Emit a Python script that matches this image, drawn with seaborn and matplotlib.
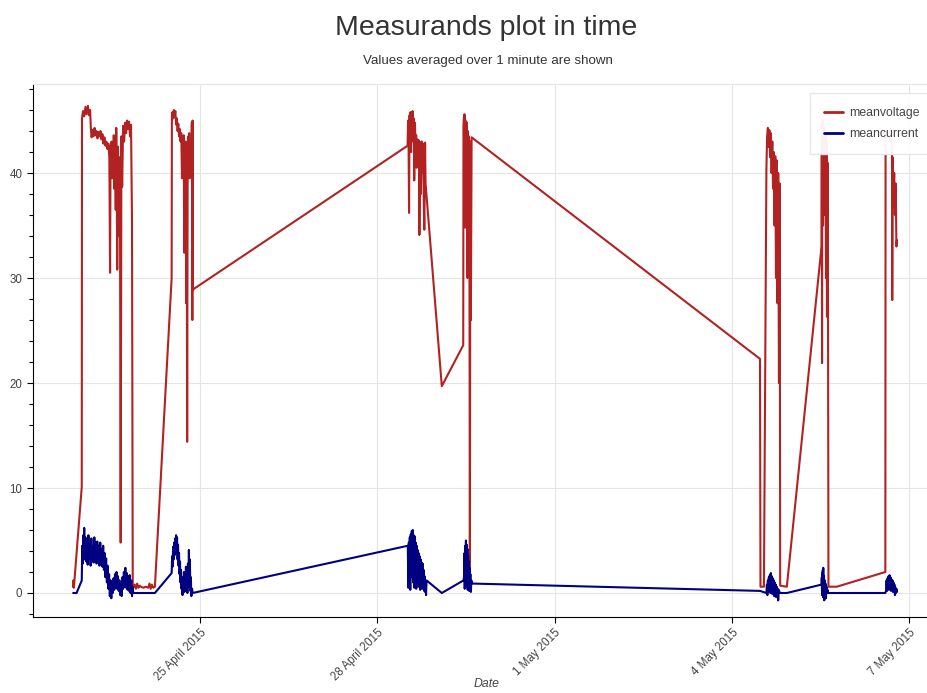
import numpy as np
import pandas as pd
import matplotlib
matplotlib.use("Agg")
import matplotlib.pyplot as plt
from matplotlib.ticker import MultipleLocator
import seaborn as sns

# ---------------- data (hours relative to 2015-04-25 00:00) ----------------
BASE = "2015-04-25 00:00"
series_names = ["meanvoltage", "meancurrent"]
series_colors = {"meanvoltage": "#b22222", "meancurrent": "#000080"}

tick_dates = ["2015-04-25", "2015-04-28", "2015-05-01", "2015-05-04", "2015-05-07"]
tick_labels = ["25 April 2015", "28 April 2015", "1 May 2015", "4 May 2015", "7 May 2015"]

# voltage, burst 1
v1_hours = [-51.6, -51.4, -51.2, -48.0, -47.9, -47.5, -47.0, -46.5, -46.0, -45.5, -45.0, -44.6,
            -44.3, -44.0, -43.6, -43.2, -42.8, -42.4, -42.0, -41.6, -41.2, -40.8, -40.4, -40.0,
            -39.6, -39.2, -38.8, -38.4, -38.0, -37.6, -37.2, -36.8, -36.5, -36.3, -36.1, -35.9,
            -35.7, -35.5, -35.2, -35.0, -34.8, -34.6, -34.4, -34.2, -34.0, -33.8, -33.6, -33.3,
            -33.0, -32.7, -32.5, -32.2, -31.9, -31.6, -31.2, -30.8, -30.4, -30.0, -29.6, -29.2,
            -28.8, -28.4, -28.0, -27.6, -27.3]
v1_values = [0.6, 1.2, 0.5, 10.1, 45.2, 45.9, 45.4, 46.3, 45.6, 46.4, 45.5, 46.0,
             44.2, 43.4, 44.1, 43.5, 44.3, 43.6, 44.0, 43.3, 43.9, 43.5, 44.0, 43.2,
             43.7, 42.8, 43.4, 42.6, 43.0, 42.3, 42.8, 41.5, 30.5, 42.6, 40.0, 43.0,
             39.5, 42.5, 41.0, 43.6, 38.5, 42.0, 40.0, 36.5, 44.3, 39.0, 30.8, 42.5,
             34.0, 41.5, 40.0, 4.8, 43.5, 38.7, 44.5, 43.0, 44.8, 43.8, 45.0, 44.2,
             44.9, 43.5, 44.6, 35.5, 0.9]
# voltage, low plateau
v2_hours = [-27.1, -26.5, -26.0, -25.5, -25.0, -24.5, -24.0, -23.0, -22.0, -21.0, -20.5, -20.0,
            -19.5, -19.0, -18.3]
v2_values = [0.5, 0.8, 0.4, 0.9, 0.5, 0.7, 0.6, 0.5, 0.6, 0.5, 0.9, 0.4, 0.8, 0.5, 0.6]
# voltage, burst 2
v3_hours = [-11.5, -11.4, -11.2, -10.9, -10.6, -10.3, -10.0, -9.7, -9.4, -9.1, -8.8, -8.5,
            -8.2, -7.9, -7.6, -7.3, -7.0, -6.8, -6.6, -6.4, -6.2, -6.0, -5.8, -5.6,
            -5.4, -5.2, -5.0, -4.8, -4.6, -4.4, -4.2, -4.0, -3.6, -3.3, -3.1, -3.0, -2.9]
v3_values = [30.0, 45.3, 45.8, 45.2, 46.0, 45.4, 45.9, 44.6, 45.2, 44.0, 44.7, 43.5,
             44.2, 43.0, 43.8, 39.5, 43.2, 42.0, 43.6, 32.4, 42.5, 40.5, 43.0, 27.6,
             42.0, 14.4, 40.0, 43.5, 41.0, 43.8, 39.5, 42.8, 41.0, 44.8, 26.0, 45.0, 28.9]
# voltage, burst 3
v4_hours = [84.3, 84.5, 84.7, 84.9, 85.1, 85.3, 85.5, 85.7, 85.9, 86.1, 86.3, 86.6,
            86.8, 87.0, 87.3, 87.5, 87.8, 88.0, 88.3, 88.6, 88.9, 89.1, 89.4, 89.7,
            90.0, 90.3, 90.6, 90.9, 91.1, 91.4, 91.6, 98.2, 106.9]
v4_values = [42.6, 45.0, 43.0, 36.2, 45.5, 44.0, 45.8, 42.0, 45.6, 44.5, 45.9, 43.0,
             45.2, 39.3, 44.8, 42.5, 43.6, 40.5, 43.2, 41.0, 43.1, 34.1, 42.9, 38.0,
             43.0, 40.0, 42.8, 37.0, 34.6, 42.9, 39.0, 19.7, 23.6]
# voltage, burst 4
v5_hours = [107.0, 107.2, 107.3, 107.4, 107.5, 107.6, 107.7, 107.8, 107.9, 108.0, 108.2,
            108.4, 108.6, 108.8, 109.0, 109.2, 109.4, 109.6, 109.8, 110.0, 110.3]
v5_values = [44.4, 45.4, 36.3, 45.6, 40.0, 45.2, 34.8, 45.0, 38.5, 44.6, 41.0,
             44.8, 30.0, 44.0, 40.5, 43.5, 36.0, 0.8, 43.0, 26.0, 43.4]
# voltage, burst 5
v6_hours = [227.4, 227.6, 229.0, 230.0, 230.3, 230.6, 230.9, 231.2, 231.5, 231.8, 232.1, 232.4,
            232.7, 233.0, 233.3, 233.6, 233.9, 234.2, 234.5, 234.8, 235.1, 235.4, 235.6, 238.3]
v6_values = [22.3, 0.6, 0.6, 40.3, 43.5, 44.3, 42.5, 44.1, 41.5, 43.8, 40.0, 43.0,
             38.5, 42.0, 35.0, 41.6, 30.0, 41.2, 27.6, 40.0, 20.0, 39.0, 0.7, 0.6]
# voltage, burst 6
v7_hours = [252.4, 252.5, 252.6, 252.7, 252.8, 252.9, 253.0, 253.2, 253.4, 253.6, 253.8, 254.0,
            254.2, 254.4, 254.6, 254.8, 255.0, 255.2, 258.6]
v7_values = [33.0, 44.5, 21.9, 44.8, 38.0, 45.0, 35.0, 44.6, 40.0, 44.2, 36.0, 43.8,
             30.0, 43.0, 26.3, 41.0, 32.0, 0.6, 0.6]
# voltage, burst 7
v8_hours = [278.3, 278.4, 280.8, 281.0, 281.1, 281.3, 281.6, 281.9, 282.2, 282.5, 282.8, 283.0]
v8_values = [2.0, 44.0, 43.0, 42.0, 27.9, 41.5, 38.0, 40.0, 36.0, 39.0, 33.0, 33.6]

# current, burst 1
c1_hours = [-51.5, -50.1, -48.0, -47.8, -47.6, -47.4, -47.2, -47.0, -46.8, -46.5, -46.2, -45.9,
            -45.6, -45.3, -45.0, -44.7, -44.4, -44.1, -43.8, -43.5, -43.2, -42.9, -42.6, -42.3,
            -42.0, -41.7, -41.4, -41.1, -40.8, -40.5, -40.2, -39.9, -39.6, -39.3, -39.0, -38.7,
            -38.4, -38.1, -37.8, -37.5, -37.2, -36.9, -36.6, -36.3, -36.0, -35.7, -35.4, -35.1,
            -34.8, -34.5, -34.2, -33.9, -33.6, -33.3, -33.0, -32.7, -32.4, -32.1, -31.8, -31.5,
            -31.2, -30.9, -30.6, -30.3, -30.0, -29.7, -29.4, -29.1, -28.8, -28.5, -28.2, -27.9,
            -27.6, -27.3, -27.1, -18.3]
c1_values = [0.0, 0.0, 1.2, 4.5, 2.8, 5.5, 3.5, 6.2, 3.2, 5.3, 3.0, 5.0,
             2.7, 5.5, 3.3, 4.6, 2.6, 5.2, 3.1, 4.4, 2.9, 5.3, 3.4, 4.8,
             2.8, 4.9, 3.0, 4.5, 2.6, 4.8, 3.2, 4.2, 2.5, 4.5, 2.2, 3.8,
             1.5, 3.3, 1.0, 2.6, 0.4, 1.8, -0.3, 1.2, -0.5, 1.0, 0.0, 1.4,
             0.3, 1.8, 0.5, 2.0, 0.4, 1.6, 0.2, 1.2, -0.2, 0.8, -0.3, 1.5,
             0.4, 2.0, 0.6, 2.4, 0.5, 1.9, 0.3, 1.6, 0.2, 1.7, 0.0, 1.2,
             -0.3, 0.6, 0.0, 0.0]
# current, burst 2
c2_hours = [-11.5, -11.3, -11.1, -10.9, -10.7, -10.5, -10.3, -10.1, -9.9, -9.7, -9.5, -9.3,
            -9.1, -8.9, -8.7, -8.5, -8.3, -8.1, -7.9, -7.7, -7.5, -7.3, -7.1, -6.9,
            -6.7, -6.5, -6.3, -6.1, -5.9, -5.7, -5.5, -5.3, -5.1, -4.9, -4.7, -4.5,
            -4.3, -4.1, -3.9, -3.7, -3.5, -3.2, -3.0]
c2_values = [1.9, 3.5, 2.5, 4.4, 3.2, 4.8, 3.6, 5.2, 3.8, 5.5, 4.0, 5.3,
             3.2, 4.6, 2.6, 3.8, 1.8, 3.0, 1.0, 2.2, 0.4, 1.5, -0.2, 1.2,
             0.3, 2.0, 0.1, 1.6, 0.5, 2.5, 0.3, 1.8, 0.0, 2.8, 0.6, 4.1,
             0.8, 3.2, 0.2, 1.5, -0.3, 0.4, 0.0]
# current, burst 3
c3_hours = [84.4, 84.6, 84.8, 85.0, 85.2, 85.4, 85.6, 85.8, 86.0, 86.2, 86.4, 86.6,
            86.8, 87.0, 87.2, 87.4, 87.6, 87.8, 88.0, 88.2, 88.4, 88.6, 88.8, 89.0,
            89.2, 89.4, 89.6, 89.8, 90.0, 90.2, 90.4, 90.6, 90.8, 91.0, 91.2, 91.4,
            91.6, 91.8, 92.0, 98.2]
c3_values = [4.5, 0.5, 4.8, 1.0, 5.3, 0.3, 5.6, 1.5, 5.9, 2.0, 6.0, 1.0,
             5.5, 0.5, 5.4, 1.8, 4.8, 0.4, 4.5, 1.2, 4.1, 0.6, 3.8, 1.5,
             3.5, 0.3, 3.2, 1.0, 2.9, 0.4, 2.8, 0.9, 2.2, 0.2, 1.6, 0.1,
             1.0, -0.2, 1.2, 0.0]
# current, burst 4
c4_hours = [107.0, 107.2, 107.4, 107.5, 107.7, 107.8, 108.0, 108.1, 108.3, 108.4, 108.6,
            108.7, 108.9, 109.0, 109.2, 109.3, 109.5, 109.6, 109.8, 110.0, 110.2, 110.4]
c4_values = [1.2, 1.5, 3.8, 0.4, 4.5, 1.0, 5.0, 0.6, 4.6, 1.2, 4.2,
             0.3, 3.6, 0.8, 3.0, 0.2, 2.4, 0.5, 1.8, 0.1, 1.2, 0.9]
# current, burst 5
c5_hours = [227.4, 230.0, 230.2, 230.4, 230.6, 230.8, 231.0, 231.2, 231.4, 231.6, 231.8, 232.0,
            232.2, 232.4, 232.6, 232.8, 233.0, 233.2, 233.4, 233.6, 233.8, 234.0, 234.2, 234.4,
            234.6, 234.8, 235.0, 235.5, 238.3]
c5_values = [0.2, 0.0, 0.8, -0.2, 1.2, 0.1, 1.5, 0.3, 1.7, 0.0, 1.9, 0.4,
             1.6, -0.1, 1.4, 0.2, 1.2, -0.3, 1.0, 0.0, 0.8, -0.4, 0.6, -0.2,
             0.4, -0.7, 0.3, 0.0, 0.0]
# current, burst 6
c6_hours = [252.4, 252.5, 252.6, 252.7, 252.8, 252.9, 253.0, 253.1, 253.2, 253.4, 253.5, 253.7,
            253.8, 254.0, 254.2, 254.4, 254.6, 254.8, 255.0, 278.3]
c6_values = [0.8, 1.5, -0.2, 1.9, 0.2, 2.2, -0.4, 2.4, 0.5, 1.6, -0.7, 1.2,
             -0.2, 0.9, -0.5, 0.6, 0.0, 0.3, 0.0, 0.0]
# current, burst 7
c7_hours = [278.6, 278.8, 279.0, 279.2, 279.4, 279.6, 279.8, 280.0, 280.2, 280.4, 280.6, 280.8,
            281.0, 281.2, 281.4, 281.6, 281.8, 282.0, 282.2, 282.4, 282.6, 282.8, 283.0]
c7_values = [0.2, 1.2, 0.2, 1.4, 0.4, 1.6, 0.3, 1.7, 0.5, 1.5, 0.2, 1.3,
             0.6, 1.2, 0.1, 1.0, 0.3, 0.8, -0.2, 0.5, 0.0, 0.4, 0.1]

voltage_hours = v1_hours + v2_hours + v3_hours + v4_hours + v5_hours + v6_hours + v7_hours + v8_hours
voltage_values = v1_values + v2_values + v3_values + v4_values + v5_values + v6_values + v7_values + v8_values
current_hours = c1_hours + c2_hours + c3_hours + c4_hours + c5_hours + c6_hours + c7_hours
current_values = c1_values + c2_values + c3_values + c4_values + c5_values + c6_values + c7_values

base = pd.Timestamp(BASE)
df = pd.concat([
    pd.DataFrame({"time": base + pd.to_timedelta(voltage_hours, unit="h"),
                  "value": voltage_values, "series": "meanvoltage"}),
    pd.DataFrame({"time": base + pd.to_timedelta(current_hours, unit="h"),
                  "value": current_values, "series": "meancurrent"}),
], ignore_index=True)

# ---------------- plotting ----------------
sns.set_theme(style="white")
plt.rcParams["font.family"] = ["Liberation Sans", "DejaVu Sans"]

W, H = 927, 693
fig = plt.figure(figsize=(W / 100, H / 100), dpi=100)
L, R, T, B = 33, 941, 84, 617
ax = fig.add_axes([L / W, 1 - B / H, (R - L) / W, (B - T) / H])

sns.lineplot(data=df, x="time", y="value", hue="series", hue_order=series_names,
             palette=series_colors, estimator=None, sort=False, linewidth=1.5, ax=ax)

ax.set_xlim(base + pd.Timedelta(hours=-67.8), base + pd.Timedelta(hours=300.9))
ax.set_ylim(-2.286, 48.48)

ax.set_xticks(pd.to_datetime(tick_dates))
ax.set_xticklabels(tick_labels, rotation=45, ha="right", rotation_mode="anchor")
ax.yaxis.set_major_locator(MultipleLocator(10))
ax.yaxis.set_minor_locator(MultipleLocator(2))

ax.tick_params(axis="both", which="major", direction="out", length=4.3, width=0.8,
               color="black", labelsize=8.3, labelcolor="#444444")
ax.tick_params(axis="x", which="major", bottom=True, pad=2.5)
ax.tick_params(axis="y", which="major", left=True, pad=3.3)
ax.tick_params(axis="y", which="minor", left=True, direction="out", length=2.6, width=0.8,
               color="black")
ax.tick_params(axis="x", which="minor", bottom=False)

ax.grid(True, which="major", color="#e5e5e5", linewidth=0.8)
ax.set_axisbelow(True)
for s in ["left", "bottom"]:
    ax.spines[s].set_color("black")
    ax.spines[s].set_linewidth(0.8)
ax.spines["top"].set_color("#e5e5e5")
ax.spines["top"].set_linewidth(0.8)
ax.spines["right"].set_visible(False)

ax.set_ylabel("")
ax.set_xlabel("Date", fontsize=8.8, style="italic", color="#444444")
ax.xaxis.set_label_coords(0.5, (B - 678) / (B - T))

handles, labels = ax.get_legend_handles_labels()
leg = ax.legend(handles, labels, loc="upper left", bbox_to_anchor=(810 / W, 1 - 93 / H),
                bbox_transform=fig.transFigure, frameon=True, fancybox=False,
                edgecolor="#e5e5e5", facecolor="white", framealpha=0.95, fontsize=8.8,
                borderpad=1.15, handlelength=1.55, handletextpad=0.5, labelspacing=0.72,
                borderaxespad=0)
for t in leg.get_texts():
    t.set_color("#444444")
for ln in leg.get_lines():
    ln.set_linewidth(2.0)

fig.text(486.5 / W, 1 - 28 / H, "Measurands plot in time", ha="center", va="center",
         fontsize=20.5, color="#333333")
fig.text(487.5 / W, 1 - 61 / H, "Values averaged over 1 minute are shown", ha="center",
         va="center", fontsize=9.6, color="#333333")

fig.savefig("out.png", dpi=100)
